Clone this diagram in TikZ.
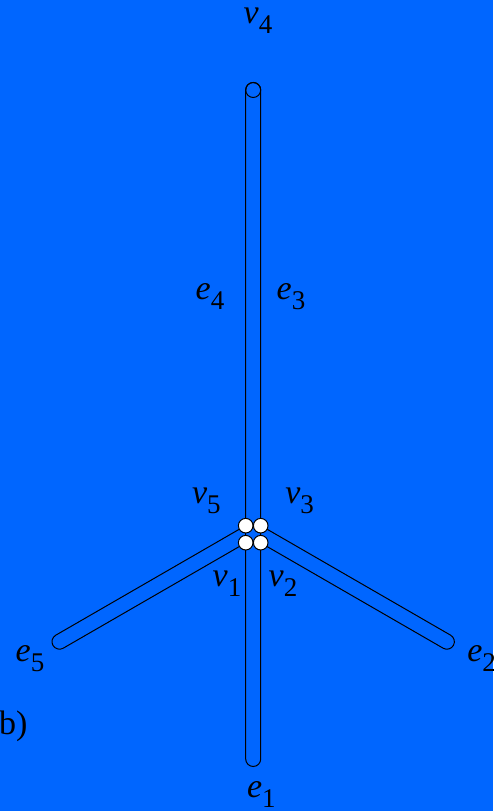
\documentclass[tikz,border=0pt]{standalone}
\usepackage{fontspec}
\setmainfont{Liberation Serif}
\definecolor{bg}{RGB}{0,102,255}
\newcommand{\lbl}[2]{{\fontsize{34}{34}\selectfont\textit{#1}\raisebox{-10pt}{\fontsize{27}{27}\selectfont #2}}}
\begin{document}
\begin{tikzpicture}[x=1pt,y=1pt,
  tube/.style={draw=black,line width=1pt,fill=bg},
  joint/.style={circle,draw=black,fill=white,line width=1pt,minimum size=14.6pt,inner sep=0pt},
  lab/.style={anchor=base west,inner sep=0pt,text=black}]
\fill[bg] (0,0) rectangle (493,811);
\useasboundingbox (0,0) rectangle (493,811);
% diagonal tubes
\coordinate (SL) at (245.7,276.8);
\coordinate (SR) at (260.7,276.8);
\draw[tube] ([shift={(120:7.5)}]SL) -- ++(210:215) arc[start angle=120,end angle=300,radius=7.5] -- ([shift={(300:7.5)}]SL);
\draw[tube] ([shift={(60:7.5)}]SR) -- ++(-30:215) arc[start angle=60,end angle=-120,radius=7.5] -- ([shift={(240:7.5)}]SR);
% vertical tube
\draw[tube] (245.7,52) -- (245.7,721) arc[start angle=180,end angle=0,radius=7.5] -- (260.7,52) arc[start angle=0,end angle=-180,radius=7.5] -- cycle;
\node[circle,draw=black,line width=1pt,minimum size=15pt,inner sep=0pt] (top) at (253.2,721) {};
% joints
\node[joint] (j5) at (245.7,285.3) {};
\node[joint] (j3) at (260.7,285.3) {};
\node[joint] (j1) at (245.7,268.3) {};
\node[joint] (j2) at (260.7,268.3) {};
% labels
\node[lab] (v4) at (243.5,787) {\lbl{v}{4}};
\node[lab] (e4) at (195.5,511) {\lbl{e}{4}};
\node[lab] (e3) at (276.5,511) {\lbl{e}{3}};
\node[lab] (v5) at (191.8,307) {\lbl{v}{5}};
\node[lab] (v3) at (285.2,307) {\lbl{v}{3}};
\node[lab] (v1) at (212.5,224) {\lbl{v}{1}};
\node[lab] (v2) at (268.5,224) {\lbl{v}{2}};
\node[lab] (e5) at (15.5,149.3) {\lbl{e}{5}};
\node[lab] (e2) at (467.1,149.3) {\lbl{e}{2}};
\node[lab] (e1) at (246.8,13) {\lbl{e}{1}};
\node[lab] (b) at (-1,76) {\fontsize{34}{34}\selectfont b)};
\end{tikzpicture}
\end{document}
